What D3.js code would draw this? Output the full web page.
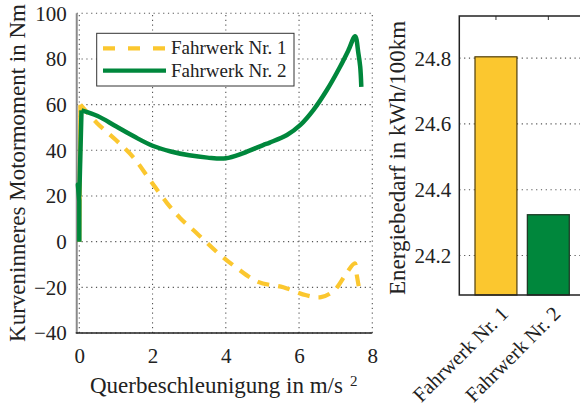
<!DOCTYPE html>
<html><head><meta charset="utf-8">
<script src="https://cdn.jsdelivr.net/npm/d3@7"></script>
<style>body{margin:0;background:#fff}svg{display:block}</style>
</head><body>
<script>
// ---- data ----
const seriesNames = ["Fahrwerk Nr. 1", "Fahrwerk Nr. 2"];
const fw1X = [0, 0.03, 0.48, 1.0, 1.47, 1.93, 2.39, 2.75, 3.2, 3.79, 4.3, 4.88, 5.57, 6.2, 6.6, 6.95, 7.3, 7.52, 7.58, 7.66];
const fw1Y = [0, 60, 52, 44.5, 37, 27, 17, 10.4, 3.8, -5, -11.5, -17.6, -20, -23.5, -24.3, -21.5, -13.7, -9.5, -15, -22.3];
const fw2X = [0, 0, -0.04, 0, 0.06, 0.5, 1.0, 1.5, 2.0, 2.5, 3.0, 3.5, 4.0, 4.48, 5.02, 5.2, 5.67, 6.03, 6.39, 6.76, 7.12, 7.35, 7.53, 7.62, 7.67, 7.7];
const fw2Y = [0, 18, 25, 20, 57.5, 55, 50.5, 46, 42, 39.5, 37.8, 36.8, 36.5, 38.8, 42.3, 43.4, 46.7, 51, 57.6, 66.4, 76.6, 83.9, 90, 82.5, 76.6, 67.8];
const xTicks = [0, 2, 4, 6, 8];
const yTicks = [-40, -20, 0, 20, 40, 60, 80, 100];
const barCategories = ["Fahrwerk Nr. 1", "Fahrwerk Nr. 2"];
const barValues = [24.804, 24.324];
const barTicks = [24.2, 24.4, 24.6, 24.8];
const colors = ["#fbc72f", "#00873c"];

const FONT = "Liberation Serif";
const W = 580, H = 409;
const svg = d3.select("body").append("svg").attr("width", W).attr("height", H);

// ---- left chart ----
const x = d3.scaleLinear().domain([0, 8]).range([79.3, 372.3]);
const y = d3.scaleLinear().domain([-40, 100]).range([333, 13.3]);
const grid = svg.append("g").attr("stroke", "#555").attr("stroke-width", 1.1).attr("stroke-dasharray", "1.2,3.6");
grid.selectAll(".gx").data(xTicks).join("line")
  .attr("x1", d => x(d)).attr("x2", d => x(d)).attr("y1", y(-40)).attr("y2", y(100));
grid.selectAll(".gy").data(yTicks).join("line")
  .attr("x1", x(-0.07)).attr("x2", x(8)).attr("y1", d => y(d)).attr("y2", d => y(d));

const xAxis = svg.append("g").attr("transform", `translate(0,${y(-40)})`)
  .call(d3.axisBottom(x).tickValues(xTicks).tickSize(0).tickPadding(15).tickFormat(d3.format("d")));
xAxis.select(".domain").remove();
xAxis.selectAll("text").attr("font-size", 21);
const yAxis = svg.append("g").attr("transform", `translate(${x(-0.07)},0)`)
  .call(d3.axisLeft(y).tickValues(yTicks).tickSize(0).tickPadding(10).tickFormat(d3.format("d")));
yAxis.select(".domain").remove();
yAxis.selectAll("text").attr("font-size", 21).attr("dy", "0.33em");

svg.append("line").attr("x1", x(-0.07)).attr("x2", x(-0.07)).attr("y1", y(100)).attr("y2", y(-40))
  .attr("stroke", "#8a8a8a").attr("stroke-width", 2);
svg.append("line").attr("x1", x(-0.07) - 1).attr("x2", x(8)).attr("y1", y(-40)).attr("y2", y(-40))
  .attr("stroke", "#222").attr("stroke-width", 1.5);

const lin = d3.line().x(d => x(d[0])).y(d => y(d[1]));
const crv = d3.line().x(d => x(d[0])).y(d => y(d[1])).curve(d3.curveCatmullRom.alpha(0.5));
const p1 = d3.zip(fw1X, fw1Y), p2 = d3.zip(fw2X, fw2Y);
svg.append("path").datum(p1.slice(0, 2)).attr("d", lin).attr("fill", "none")
  .attr("stroke", colors[0]).attr("stroke-width", 4.2);
svg.append("path").datum(p1.slice(1)).attr("d", crv).attr("fill", "none")
  .attr("stroke", colors[0]).attr("stroke-width", 4.2).attr("stroke-dasharray", "12,9");
svg.append("path").datum(p2.slice(0, 5)).attr("d", lin).attr("fill", "none")
  .attr("stroke", colors[1]).attr("stroke-width", 4.5).attr("stroke-linejoin", "round");
svg.append("path").datum(p2.slice(4)).attr("d", crv).attr("fill", "none")
  .attr("stroke", colors[1]).attr("stroke-width", 4.5).attr("stroke-linejoin", "round");

// legend
const lg = svg.append("g");
lg.append("rect").attr("x", 96.7).attr("y", 33.3).attr("width", 197.3).attr("height", 52.7)
  .attr("fill", "#fff").attr("stroke", "#333").attr("stroke-width", 1);
seriesNames.forEach((s, i) => {
  const yy = 48.3 + i * 22.4;
  lg.append("line").attr("x1", 103).attr("x2", 166).attr("y1", yy).attr("y2", yy)
    .attr("stroke", colors[i]).attr("stroke-width", 4.3)
    .attr("stroke-dasharray", i === 0 ? "12,13" : null);
  lg.append("text").attr("x", 171).attr("y", yy + 6).attr("font-size", 19).text(s);
});

// axis titles
svg.append("text").attr("x", 90).attr("y", 393).attr("font-size", 23).text("Querbeschleunigung in m/s");
svg.append("text").attr("x", 350).attr("y", 386).attr("font-size", 15).text("2");
svg.append("text").attr("transform", "translate(25,173) rotate(-90)").attr("text-anchor", "middle")
  .attr("font-size", 23).text("Kurveninneres Motormoment in Nm");

// ---- bar chart ----
const bx = d3.scaleLinear().domain([0.3, 2.7]).range([459.3, 585]);
const by = d3.scaleLinear().domain([24.08, 24.928]).range([295, 16]);
const bg = svg.append("g").attr("stroke", "#555").attr("stroke-width", 1.1).attr("stroke-dasharray", "1.2,3.6");
bg.selectAll("line").data(barTicks).join("line")
  .attr("x1", bx(0.3)).attr("x2", bx(2.7)).attr("y1", d => by(d)).attr("y2", d => by(d));
svg.selectAll(".bar").data(barValues).join("rect")
  .attr("x", (d, i) => bx(i + 1 - 0.4)).attr("width", bx(1.8) - bx(1))
  .attr("y", d => by(d)).attr("height", d => by(24.08) - by(d))
  .attr("fill", (d, i) => colors[i]).attr("stroke", (d, i) => i === 0 ? "#5c4a14" : "#1d3b26").attr("stroke-width", 1.3);
const byAxis = svg.append("g").attr("transform", `translate(${bx(0.3)},0)`)
  .call(d3.axisLeft(by).tickValues(barTicks).tickSize(0).tickPadding(8).tickFormat(d3.format(".1f")));
byAxis.select(".domain").remove();
byAxis.selectAll("text").attr("font-size", 21).attr("dy", "0.33em");
const bxAxis = svg.append("g").attr("transform", `translate(0,${by(24.08)})`)
  .call(d3.axisBottom(bx).tickValues([1, 2]).tickSize(0).tickFormat((d, i) => barCategories[i]));
bxAxis.select(".domain").remove();
bxAxis.selectAll("text").attr("font-size", 20.5)
  .attr("text-anchor", "end").attr("dy", null).attr("y", 0)
  .attr("transform", "translate(13,20) rotate(-45)");
svg.selectAll(".tt").data([1, 2]).join("line")
  .attr("x1", d => bx(d)).attr("x2", d => bx(d)).attr("y1", 16).attr("y2", 20)
  .attr("stroke", "#333").attr("stroke-width", 1);
svg.append("path").attr("d", `M${bx(2.7)},16 H${bx(0.3)} V${by(24.08)} H${bx(2.7)}`)
  .attr("fill", "none").attr("stroke", "#222").attr("stroke-width", 1.5);
svg.append("text").attr("transform", "translate(405,158) rotate(-90)").attr("text-anchor", "middle")
  .attr("font-size", 23).text("Energiebedarf in kWh/100km");

// fonts for all text
svg.selectAll("g").attr("font-family", null);
svg.selectAll("text").attr("font-family", FONT).attr("fill", "#222");
</script>
</body></html>
